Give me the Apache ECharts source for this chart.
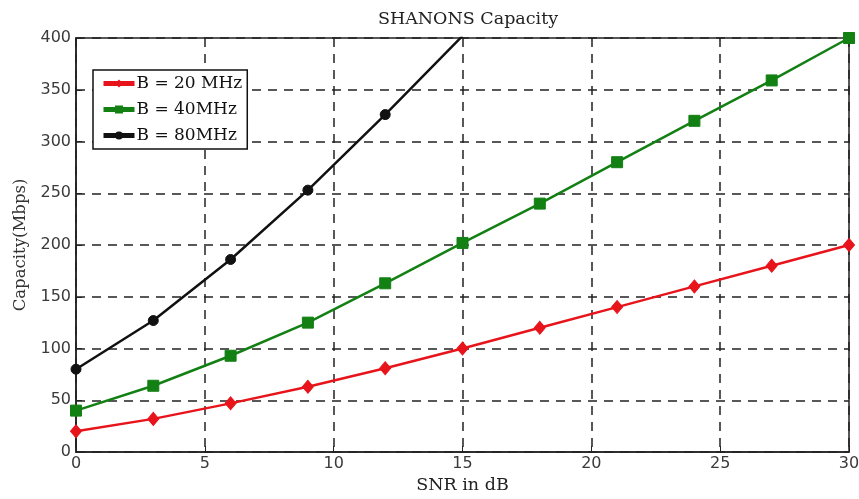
<!DOCTYPE html>
<html>
<head>
<meta charset="utf-8">
<script src="https://cdn.jsdelivr.net/npm/echarts@6/dist/echarts.min.js"></script>
<style>
  html, body { margin: 0; padding: 0; background: #fff; }
  #chart { width: 859px; height: 499px; }
</style>
</head>
<body>
<div id="chart"></div>
<script>
// SNR sample points (dB) and capacity per bandwidth (Mbps)
const snrDb = [0, 3, 6, 9, 12, 15, 18, 21, 24, 27, 30];
const cap20 = [20, 32, 47, 63, 81, 100, 120, 140, 160, 180, 200];
const cap40 = [40, 64, 93, 125, 163, 202, 240, 280, 320, 359, 400];
const cap80 = [80, 127, 186, 253, 326, 402];
const seriesNames = ['B = 20 MHz', 'B = 40MHz', 'B = 80MHz'];

const pairs = (ys) => ys.map((y, i) => [snrDb[i], y]);

const serif = '"DejaVu Serif", "Liberation Serif", serif';
const sans = '"DejaVu Sans", "Liberation Sans", sans-serif';

function lineSeries(name, data, color, symbol, size) {
  return {
    name: name,
    type: 'line',
    data: pairs(data),
    clip: true,
    symbol: symbol,
    symbolSize: size,
    showAllSymbol: true,
    lineStyle: { color: color, width: 2.5 },
    itemStyle: { color: color, borderColor: color },
    emphasis: { disabled: true },
    animation: false
  };
}

const chart = echarts.init(document.getElementById('chart'), null, { renderer: 'canvas' });
chart.setOption({
  backgroundColor: '#fff',
  animation: false,
  title: {
    text: 'SHANONS Capacity',
    left: 463,
    textAlign: 'center',
    top: 5,
    textStyle: { fontFamily: serif, fontSize: 17.5, fontWeight: 'normal', color: '#222' }
  },
  legend: {
    orient: 'vertical',
    left: 93,
    top: 70,
    data: seriesNames,
    backgroundColor: '#fff',
    borderColor: '#111',
    borderWidth: 1.5,
    borderRadius: 0,
    padding: [5, 5, 5, 8],
    itemGap: 9,
    itemWidth: 31,
    itemHeight: 10,
    lineStyle: { width: 5 },
    textStyle: { fontFamily: serif, fontSize: 17, color: '#111', padding: [0, 0, 0, -3] }
  },
  grid: {
    left: 76, right: 10, top: 38, bottom: 47,
    outerBoundsMode: 'none',
    show: true,
    borderColor: '#222',
    borderWidth: 1.5,
    backgroundColor: 'transparent'
  },
  xAxis: {
    type: 'value',
    min: 0, max: 30, interval: 5,
    name: 'SNR in dB',
    nameLocation: 'middle',
    nameGap: 24,
    nameTextStyle: { fontFamily: serif, fontSize: 17.5, color: '#222' },
    axisLine: { show: true, lineStyle: { color: '#222', width: 1.5 } },
    axisTick: { show: true, inside: true, length: 6, lineStyle: { color: '#222' } },
    axisLabel: { fontFamily: sans, fontSize: 16, color: '#3a3a3a', margin: 4 },
    splitLine: { show: true, lineStyle: { color: '#222', type: [9, 7], width: 1.5 } }
  },
  yAxis: {
    type: 'value',
    min: 0, max: 400, interval: 50,
    name: 'Capacity(Mbps)',
    nameLocation: 'middle',
    nameGap: 46,
    nameTextStyle: { fontFamily: serif, fontSize: 16.5, color: '#333' },
    axisLine: { show: true, lineStyle: { color: '#222', width: 1.5 } },
    axisTick: { show: true, inside: true, length: 6, lineStyle: { color: '#222' } },
    axisLabel: { fontFamily: sans, fontSize: 16, color: '#3a3a3a', margin: 5 },
    splitLine: { show: true, lineStyle: { color: '#222', type: [9, 7], width: 1.5 } }
  },
  series: [
    lineSeries(seriesNames[0], cap20, '#e8141b', 'diamond', [11, 13]),
    lineSeries(seriesNames[1], cap40, '#138013', 'rect', 11),
    lineSeries(seriesNames[2], cap80, '#111111', 'circle', 10)
  ]
});
</script>
</body>
</html>
